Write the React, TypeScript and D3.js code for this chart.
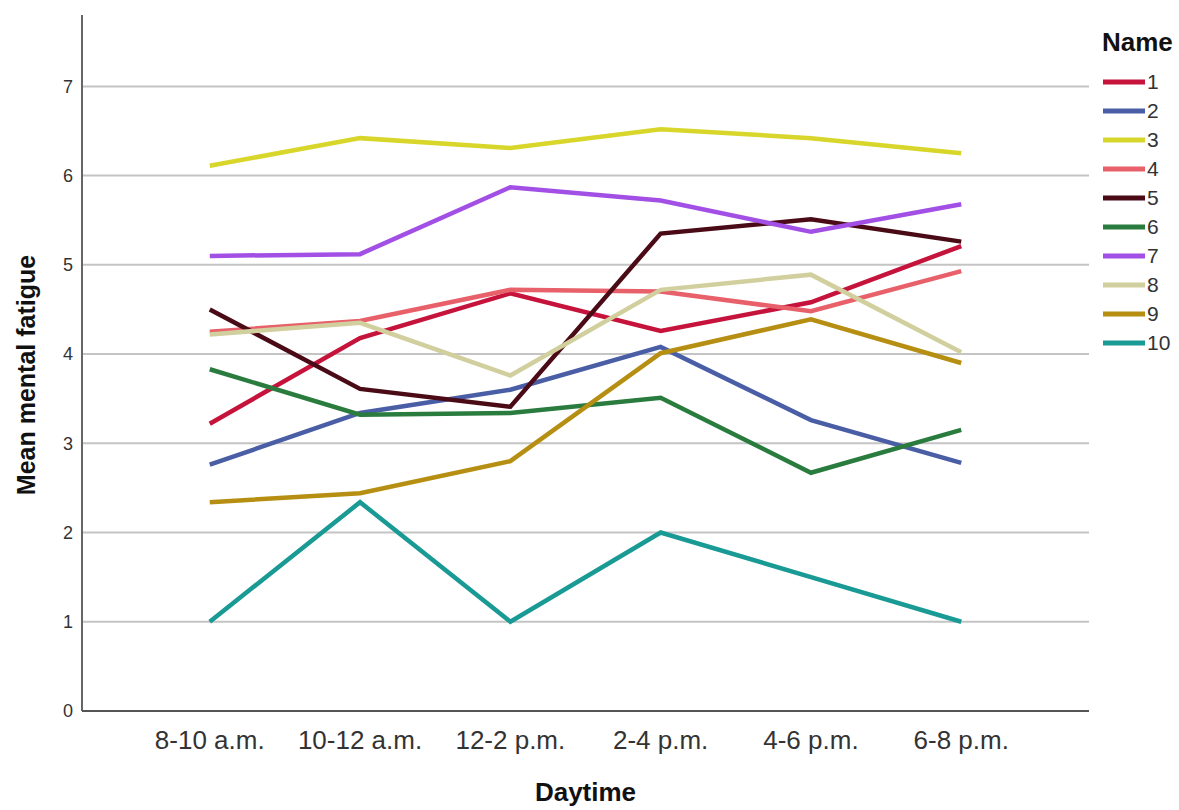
import * as d3 from 'd3';

const dayTimes = ['8-10 a.m.', '10-12 a.m.', '12-2 p.m.', '2-4 p.m.', '4-6 p.m.', '6-8 p.m.'];
const names = ['1', '2', '3', '4', '5', '6', '7', '8', '9', '10'];
const colors = ['#c5133b', '#4a5ea6', '#d8d62a', '#e8606a', '#4b0b16', '#2a7b3e', '#a24fe6', '#d2cf9e', '#b68f12', '#1a9a94'];

const fatigue1 = [3.22, 4.18, 4.68, 4.26, 4.58, 5.21];
const fatigue2 = [2.76, 3.34, 3.6, 4.08, 3.26, 2.78];
const fatigue3 = [6.11, 6.42, 6.31, 6.52, 6.42, 6.25];
const fatigue4 = [4.25, 4.37, 4.72, 4.7, 4.48, 4.93];
const fatigue5 = [4.5, 3.61, 3.41, 5.35, 5.51, 5.26];
const fatigue6 = [3.83, 3.32, 3.34, 3.51, 2.67, 3.15];
const fatigue7 = [5.1, 5.12, 5.87, 5.72, 5.37, 5.68];
const fatigue8 = [4.22, 4.35, 3.76, 4.72, 4.89, 4.02];
const fatigue9 = [2.34, 2.44, 2.8, 4.01, 4.39, 3.9];
const fatigue10 = [1.0, 2.34, 1.0, 2.0, 1.5, 1.0];

const series = [fatigue1, fatigue2, fatigue3, fatigue4, fatigue5, fatigue6, fatigue7, fatigue8, fatigue9, fatigue10];
const yTicks = [0, 1, 2, 3, 4, 5, 6, 7];

export default function App() {
  const width = 1179;
  const height = 810;
  const margin = { top: 15, right: 90, bottom: 99, left: 82 };

  const x = d3.scalePoint<string>()
    .domain(dayTimes)
    .range([margin.left, width - margin.right])
    .padding(0.85);

  const y = d3.scaleLinear()
    .domain([0, 7.8])
    .range([height - margin.bottom, margin.top]);

  const line = d3.line<number>()
    .x((_, i) => x(dayTimes[i]) as number)
    .y((d) => y(d));

  const font = 'Liberation Sans, Arial, sans-serif';
  const x0 = margin.left;
  const x1 = width - margin.right;

  return (
    <svg width={width} height={height} style={{ position: 'absolute', left: 0, top: 0, background: '#fff' }} fontFamily={font}>
      {/* gridlines */}
      {yTicks.filter((t) => t > 0).map((t) => (
        <line key={t} x1={x0} x2={x1} y1={y(t)} y2={y(t)} stroke="#c4c4c4" strokeWidth={2} />
      ))}

      {/* axes */}
      <line x1={x0} x2={x0} y1={margin.top} y2={y(0)} stroke="#666" strokeWidth={2} />
      <line x1={x0} x2={x1} y1={y(0)} y2={y(0)} stroke="#555" strokeWidth={2} />

      {yTicks.map((t) => (
        <text key={t} x={73} y={y(t)} dy="0.35em" textAnchor="end" fontSize={18} fill="#333">{t}</text>
      ))}

      {dayTimes.map((d) => (
        <text key={d} x={x(d)} y={749} textAnchor="middle" fontSize={26} fill="#333">{d}</text>
      ))}

      <text x={(x0 + x1) / 2} y={801} textAnchor="middle" fontSize={26} fontWeight="bold" fill="#111">Daytime</text>
      <text transform={`translate(35, 375) rotate(-90)`} textAnchor="middle" fontSize={25} fontWeight="bold" fill="#111">Mean mental fatigue</text>

      {/* lines */}
      {series.map((s, i) => (
        <path key={i} d={line(s) ?? ''} fill="none" stroke={colors[i]} strokeWidth={4.5} strokeLinejoin="miter" />
      ))}

      {/* legend */}
      <text x={1102} y={51} fontSize={26} fontWeight="bold" fill="#111">Name</text>
      {names.map((n, i) => (
        <g key={n} transform={`translate(1103, ${82 + i * 29})`}>
          <line x1={0} x2={42} y1={0} y2={0} stroke={colors[i]} strokeWidth={5} />
          <text x={44} y={0} dy="0.35em" fontSize={21} fill="#333">{n}</text>
        </g>
      ))}
    </svg>
  );
}
